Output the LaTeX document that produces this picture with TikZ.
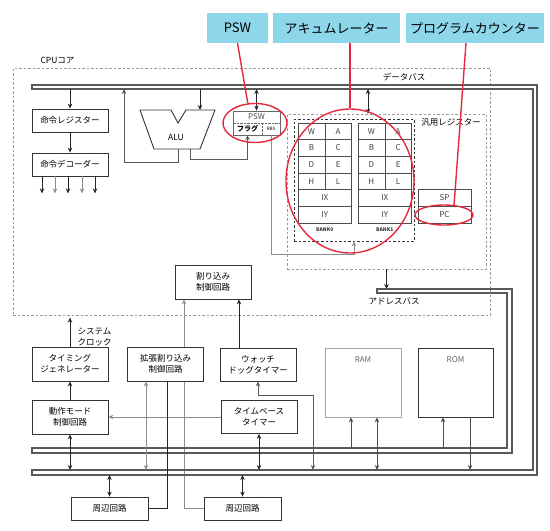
\documentclass[tikz,border=0pt]{standalone}
\usepackage{fontspec}
\newfontfamily\jpfont{Noto Sans CJK JP}
\usetikzlibrary{arrows.meta,shapes.geometric,backgrounds,calc}
\definecolor{callout}{RGB}{142,214,234}
\definecolor{ringred}{RGB}{230,40,62}
\tikzset{
  blk/.style={draw=black!80, fill=white, line width=0.8pt, minimum width=76pt, minimum height=34pt, inner sep=0pt, align=center},
  reg/.style={draw=black!70, minimum height=16.67pt, inner sep=0pt, font=\jpfont\fontsize{8}{9}\selectfont\color{black!75}},
  tag/.style={fill=callout, minimum height=30pt, inner sep=0pt, font=\jpfont\fontsize{13}{14}\selectfont},
  ring/.style={ellipse, draw=ringred, line width=1.4pt, inner sep=0pt},
  callline/.style={draw=ringred, line width=1.4pt},
  bus/.style={draw=black!65, line width=1.2pt},
  wire/.style={line width=0.8pt, black!85},
  gwire/.style={line width=0.8pt, black!45},
  fence/.style={draw=black!40, dash pattern=on 2.5pt off 2pt, line width=0.7pt, inner sep=0pt},
  >={Stealth[length=5pt,width=4.5pt]}
}
\begin{document}
\begin{tikzpicture}[x=1pt,y=-1pt,font=\jpfont\fontsize{8.5}{11}\selectfont]
  \useasboundingbox (0,0) rectangle (550,531);

  % callouts
  \node[tag, minimum width=61pt] (pswtag) at (237.5,28) {PSW};
  \node[tag, minimum width=127pt] (acctag) at (336.5,28) {アキュムレーター};
  \node[tag, minimum width=138pt] (pctag) at (475,28) {プログラムカウンター};

  % cpu core and register area
  \node[fence, minimum width=477pt, minimum height=247pt] (cpu) at (251.5,191.5) {};
  \node[anchor=west] (cpulbl) at (37,60) {CPUコア};
  \node[fence, minimum width=199pt, minimum height=155pt] (gpr) at (386.5,191.5) {};
  \node (gprlbl) at (451,122) {汎用レジスター};
  \node[draw=black!80, dash pattern=on 2.5pt off 2pt, line width=0.8pt, minimum width=120pt, minimum height=122pt] (bank) at (354,180) {};

  % buses
  \draw[bus] (32,89) -- (533,89) -- (533,470) -- (32,470) -- (32,475) -- (537,475) -- (537,85) -- (32,85) -- cycle;
  \draw[bus] (377,289) -- (512,289) -- (512,453) -- (32,453) -- (32,448) -- (507,448) -- (507,293) -- (377,293) -- cycle;
  \coordinate (dbt) at (32,89);
  \coordinate (dbb) at (32,470);
  \coordinate (dbo) at (32,475);
  \coordinate (abt) at (377,289);
  \coordinate (abb) at (32,448);
  \node (dblbl) at (404,77) {データバス};
  \node (ablbl) at (394,301) {アドレスバス};

  % blocks
  \node[blk, minimum height=23pt] (ireg) at (70,120.5) {命令レジスター};
  \node[blk, minimum height=23pt] (idec) at (70,164.5) {命令デコーダー};
  \draw[black!80, line width=0.9pt] (140,110) -- (171,110) -- (178,123) -- (186,110) -- (215,110) -- (200,149) -- (154,149) -- cycle;
  \node (alu) at (176,137) {ALU};
  \coordinate (aluin) at (200,110);
  \coordinate (aluo1) at (178,149);
  \coordinate (aluo2) at (190,149);
  \coordinate (alufb) at (124,89);
  \node[draw=black!60, line width=0.8pt, minimum width=47pt, minimum height=24pt, inner sep=0pt] (pswblk) at (256.5,123) {};
  \draw[black!60, densely dotted] (pswblk.west) -- (pswblk.east);
  \draw[black!60, densely dotted] ([xshift=5.5pt]pswblk.center) -- ([xshift=5.5pt]pswblk.south);
  \node[font=\jpfont\fontsize{8}{9}\selectfont\color{black!70}] (pswtxt) at (256.5,116.5) {PSW};
  \node[minimum width=29pt, minimum height=12pt, inner sep=0pt, font=\jpfont\bfseries\fontsize{7}{8}\selectfont] (flag) at (247.5,129) {フラグ};
  \node[minimum width=18pt, minimum height=12pt, inner sep=0pt, font=\jpfont\fontsize{4.5}{5}\selectfont] (rbs) at (271,129) {RBS};

  % register banks
  \foreach \bx/\bn in {311.4/0,371.4/1} {
    \foreach \l/\r [count=\i from 0] in {W/A,B/C,D/E,H/L} {
      \node[reg, minimum width=26.75pt] (l\bn\i) at (\bx,131.3+16.67*\i) {\l};
      \node[reg, minimum width=26.75pt] (r\bn\i) at (\bx+26.75,131.3+16.67*\i) {\r};
    }
    \node[reg, minimum width=53.5pt] (ix\bn) at (\bx+13.375,198) {IX};
    \node[reg, minimum width=53.5pt] (iy\bn) at (\bx+13.375,214.7) {IY};
    \node[font=\jpfont\bfseries\fontsize{5}{6}\selectfont\color{black!80}] (bk\bn) at (\bx+13.375,230) {BANK\bn};
  }
  \node[reg, minimum width=53pt] (sp) at (444.5,198) {SP};
  \node[reg, minimum width=53pt] (pc) at (444.5,214.7) {PC};

  \node[blk] (intc) at (213,282) {割り込み\\制御回路};
  \node[blk] (tg) at (70,364) {タイミング\\ジェネレーター};
  \node[anchor=west, align=left] (sysclk) at (74,337.5) {システム\\クロック};
  \node[blk] (xint) at (165.5,364) {拡張割り込み\\制御回路};
  \node[blk, minimum height=33pt] (wdt) at (258,364.5) {ウォッチ\\ドッグタイマー};
  \node[blk] (opmode) at (70,417) {動作モード\\制御回路};
  \node[blk, minimum height=33pt] (tb) at (259,417) {タイムベース\\タイマー};
  \node[blk, draw=black!35, minimum height=69pt] (ram) at (363,382.5) {};
  \node[font=\jpfont\fontsize{8}{9}\selectfont\color{black!60}] (ramlbl) at ([yshift=-12pt]ram.north) {RAM};
  \node[blk, minimum width=75pt, minimum height=69pt] (rom) at (455.5,382.5) {};
  \node[font=\jpfont\fontsize{8}{9}\selectfont\color{black!60}] (romlbl) at ([yshift=-12pt]rom.north) {ROM};
  \node[blk, minimum width=77pt, minimum height=23pt] (per1) at (109.5,508.5) {周辺回路};
  \node[blk, minimum width=77pt, minimum height=23pt] (per2) at (242.5,508.5) {周辺回路};

  % connections
  \draw[wire,->] (ireg.north |- dbt) -- (ireg.north);
  \draw[wire,->] (ireg) -- (idec);
  \foreach \dx/\c in {-28/black!85,-15/black!45,-2/black!85,12/black!45,25/black!85}
    \draw[->, line width=0.8pt, \c] ([xshift=\dx pt]idec.south) -- ++(0,17);
  \draw[wire,->] (aluin |- dbt) -- (aluin);
  \draw[line width=0.8pt, black!65,->] (aluo1) -- ++(0,13) -| (alufb);
  \draw[line width=0.8pt, black!65,->] (aluo2) -- ++(0,10) -| (flag.south);
  \draw[wire,<->] (pswblk.north |- dbt) -- (pswblk.north);
  \draw[gwire,->] (rbs.south) |- ($(bank.south)+(0,13)$) -- (bank.south);
  \coordinate (gprin) at ([xshift=-18.5pt]gpr.north);
  \draw[wire,<->] (gprin |- dbt) -- (gprin);
  \draw[wire,->] (gpr.south) -- (gpr.south |- abt);
  \draw[wire,->] (tg.north) -- ++(0,-29);
  \draw[wire,->] (opmode) -- (tg);
  \draw[wire,<->] (opmode.south) -- (opmode.south |- dbb);
  \draw[gwire,->] (tb) -- (opmode);
  \draw[wire,<->] (tb.south) -- (tb.south |- dbb);
  \coordinate (wdtbus) at (313,470);
  \draw[line width=0.8pt, black!65,<->] (wdt.south) -- ++(0,14) -| (wdtbus);
  \draw[wire,->] ([xshift=-19pt]wdt.north) -- ([xshift=26pt]intc.south);
  \coordinate (xintio) at ([xshift=-19.5pt]xint.south);
  \draw[gwire,<->] (xintio) -- (xintio |- dbb);
  \draw[wire] (per1) -| ([xshift=1.5pt]xint.south);
  \begin{scope}[on background layer]
    \draw[gwire,->] (per2) -| ([xshift=-29pt]intc.south);
  \end{scope}
  \draw[wire,<->] (per1.north |- dbo) -- (per1.north);
  \draw[wire,<->] (per2.north |- dbo) -- (per2.north);
  \coordinate (rama) at ([xshift=-12pt]ram.south);
  \coordinate (ramd) at ([xshift=14pt]ram.south);
  \coordinate (roma) at ([xshift=-12.5pt]rom.south);
  \coordinate (romd) at ([xshift=14.5pt]rom.south);
  \draw[line width=0.7pt, black!70,<-] (rama) -- (rama |- abb);
  \draw[line width=0.7pt, black!70,<->] (ramd) -- (ramd |- dbb);
  \draw[line width=0.7pt, black!70,<-] (roma) -- (roma |- abb);
  \draw[line width=0.7pt, black!70,->] (romd) -- (romd |- dbb);

  % highlights
  \node[ring, minimum width=64pt, minimum height=39pt] (pswring) at (255,123) {};
  \node[ring, minimum width=128pt, minimum height=144pt] (accring) at (350,181) {};
  \node[ring, minimum width=58pt, minimum height=20pt] (pcring) at (444,215) {};
  \draw[callline] (pswtag.south) -- (pswring.110);
  \draw[callline] (accring.north |- acctag.south) -- (accring.north);
  \draw[callline] ([xshift=-9pt]pctag.south) -- (pcring.45);
\end{tikzpicture}
\end{document}
